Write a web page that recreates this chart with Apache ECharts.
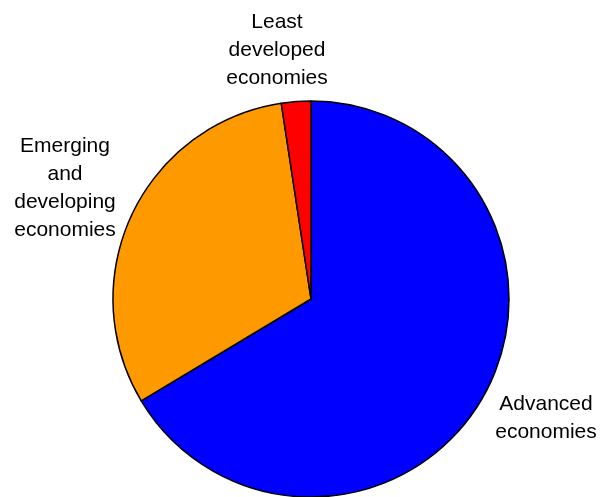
<!DOCTYPE html>
<html>
<head>
<meta charset="utf-8">
<script src="https://cdn.jsdelivr.net/npm/echarts@6/dist/echarts.min.js"></script>
<style>html,body{margin:0;padding:0;background:#fff;}#c{width:611px;height:497px;}</style>
</head>
<body>
<div id="c"></div>
<script>
const categories = ['Advanced\neconomies', 'Emerging\nand\ndeveloping\neconomies', 'Least\ndeveloped\neconomies'];
const values = [66.4, 31.2, 2.4];
const colors = ['#0000FF', '#FF9900', '#FF0000'];
const labelPos = [[546, 418], [65, 188], [277, 50]];

const chart = echarts.init(document.getElementById('c'), null, {renderer: 'canvas'});
chart.setOption({
  animation: false,
  backgroundColor: '#fff',
  series: [{
    type: 'pie',
    center: [311, 299],
    radius: 198,
    startAngle: 90,
    clockwise: true,
    data: categories.map((c, i) => ({name: c, value: values[i], itemStyle: {color: colors[i]}})),
    itemStyle: {borderColor: '#000', borderWidth: 1.5},
    label: {
      show: true,
      position: 'outside',
      formatter: '{b}',
      fontFamily: 'Liberation Sans, Arial, sans-serif',
      fontSize: 21,
      lineHeight: 28,
      color: '#000',
      align: 'center',
      overflow: 'none',
      width: 200
    },
    labelLine: {show: false},
    labelLayout: function (p) {
      const pos = labelPos[p.dataIndex];
      return {x: pos[0], y: pos[1], align: 'center', verticalAlign: 'middle'};
    },
    emphasis: {disabled: true}
  }]
});
</script>
</body>
</html>
